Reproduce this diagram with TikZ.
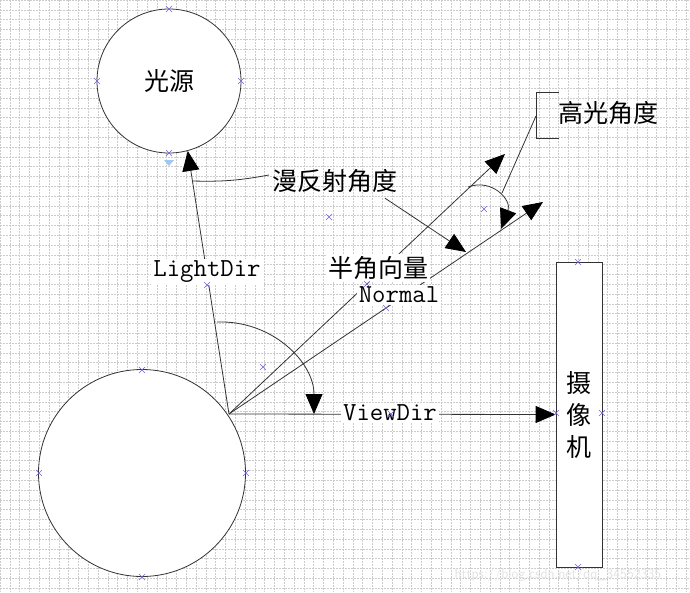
\documentclass[tikz,border=0pt]{standalone}
\usepackage{fontspec}
\newfontfamily\cjk{Noto Sans CJK SC}
\usetikzlibrary{arrows.meta,positioning}
\definecolor{hndl}{RGB}{160,200,240}
\definecolor{mkblue}{RGB}{110,100,220}
\tikzset{
  ln/.style={draw=black!80,line width=0.8pt},
  tip/.style={-{Triangle[length=20pt,width=17pt,black]}},
  lab/.style={fill=white,inner sep=2pt,font=\ttfamily\fontsize{26}{26}\selectfont},
  zh/.style={font=\cjk\fontsize{25}{32}\selectfont},
  mk/.style={draw=mkblue,line width=0.6pt},
}
\begin{document}
\begin{tikzpicture}[x=1pt,y=-1pt]
  \useasboundingbox (0,0) rectangle (690,592);
  \fill[white] (0,0) rectangle (690,592);
  % grid
  \foreach \i in {0,...,70}
    \draw[gray!40,line width=0.4pt,dash pattern=on 1.5pt off 1.5pt] (\i*9.8,0) -- (\i*9.8,592);
  \foreach \j in {0,...,60}
    \draw[gray!40,line width=0.4pt,dash pattern=on 1.5pt off 1.5pt] (0,\j*9.8) -- (690,\j*9.8);

  \node[circle,ln,fill=white,minimum size=144pt,zh] (light) at (169,81) {光源};
  \node[circle,ln,fill=white,minimum size=207pt] (obj) at (142,473) {};
  \node[rectangle,ln,fill=white,minimum width=46pt,minimum height=305pt,zh,align=center] (cam) at (579,414.5) {摄\\像\\机};
  \fill[hndl] (164,160) -- (174,160) -- (169,166) -- cycle;

  \coordinate (o) at (229,414);
  \coordinate (hv) at (505,154);
  \coordinate (nv) at (543,202);
  \coordinate (lp) at (192.5,181);
  \coordinate (dtip) at (466,252);

  \draw[ln,tip] (o) -- (light.-75);
  \draw[ln,tip] (o) -- (hv);
  \draw[ln,tip] (o) -- (nv);
  \draw[ln,tip] (o) -- (cam.west);
  % angles
  \draw[ln,tip] (217,322) .. controls (272,320) and (314,362) .. (314,414);
  \draw[ln,tip] (468,187) .. controls (492,178) and (512,200) .. (501,229);

  \node[lab] (ldlab) at (207,272) {LightDir};
  \node[lab,zh] (hlab) at (378,268) {半角向量};
  \node[lab] (nlab) at (399,295) {Normal};
  \node[lab] (vlab) at (390,413) {ViewDir};
  \node[zh] (dflab) at (335,181) {漫反射角度};
  \node[zh] (splab) at (608,113) {高光角度};

  % callouts
  \draw[ln] ([yshift=6pt]dflab.west) to[bend left=6] (lp);
  \draw[ln,tip] ([xshift=50pt,yshift=-2pt]dflab.south) -- (dtip);
  \draw[ln] (559,92) -- (536,92) -- (536,138) -- (559,138);
  \draw[ln] (536,116) -- (502,193);

  \foreach \x/\y in {169/9,97/81,241/81,169/153,142/370,39/473,246/473,142/577,
      578/262,556/413,602/413,578/567,207/285,367/284,386/308,263/367,391/414,329/217,484/209}
    \draw[mk] (\x-3,\y-3) -- (\x+3,\y+3) (\x-3,\y+3) -- (\x+3,\y-3);

  \node[gray!22,font=\sffamily\fontsize{14}{14}\selectfont] (wm) at (558,575) {https://blog.csdn.net/qq\_34552335};
\end{tikzpicture}
\end{document}
